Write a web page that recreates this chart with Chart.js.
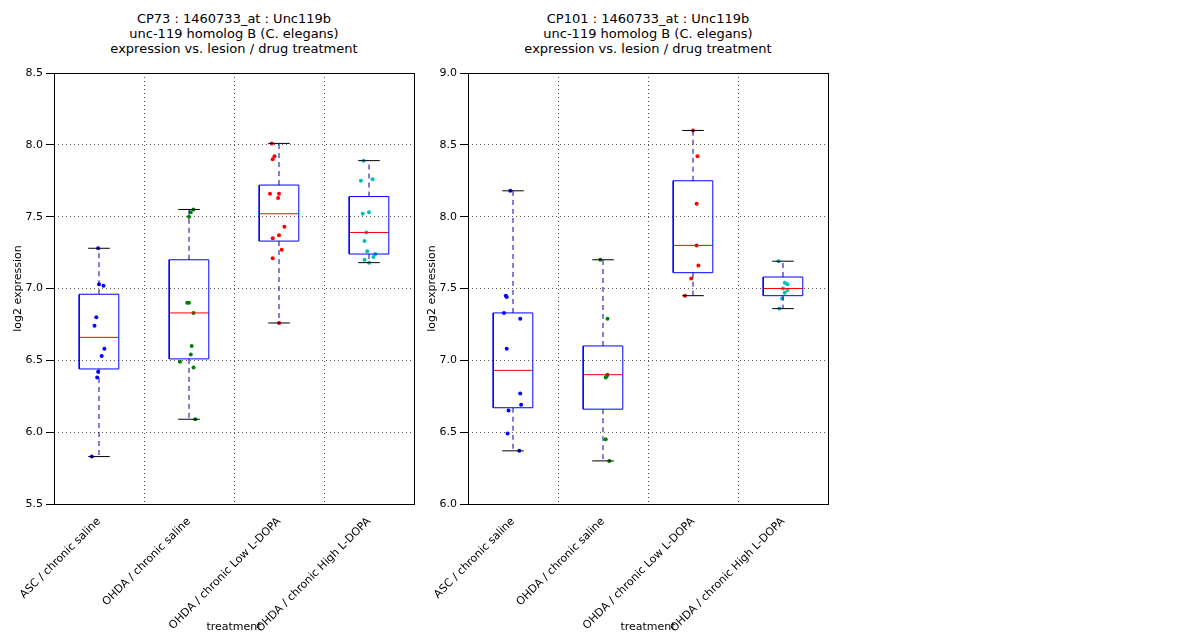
<!DOCTYPE html>
<html><head><meta charset="utf-8">
<script src="https://cdn.jsdelivr.net/npm/chart.js@4"></script>
<style>
body{margin:0;background:#fff;font-family:"DejaVu Sans",sans-serif;}
.title{position:absolute;top:11px;width:360px;text-align:center;font-size:13px;line-height:15px;}
.wrap{position:absolute;top:60px;width:430px;height:580px;}
</style></head><body>
<div class="title" style="left:54px">CP73 : 1460733_at : Unc119b<br>unc-119 homolog B (C. elegans)<br>expression vs. lesion / drug treatment</div>
<div class="title" style="left:468px">CP101 : 1460733_at : Unc119b<br>unc-119 homolog B (C. elegans)<br>expression vs. lesion / drug treatment</div>
<div class="wrap" style="left:0"><canvas id="c1"></canvas></div>
<div class="wrap" style="left:414px"><canvas id="c2"></canvas></div>
<script>
const categories = ['ASC / chronic saline', 'OHDA / chronic saline', 'OHDA / chronic Low L-DOPA', 'OHDA / chronic High L-DOPA'];
const colors = ['#0000ff', '#008000', '#ff0000', '#00bfbf'];

// CP73
const cp73Points = [
  [7.28, 7.03, 7.02, 6.80, 6.74, 6.58, 6.53, 6.42, 6.38, 5.83],
  [7.55, 7.53, 7.50, 6.90, 6.90, 6.83, 6.60, 6.54, 6.49, 6.45, 6.09],
  [8.01, 7.92, 7.90, 7.66, 7.66, 7.63, 7.43, 7.37, 7.35, 7.27, 7.21, 6.76],
  [7.89, 7.76, 7.75, 7.53, 7.52, 7.39, 7.33, 7.26, 7.24, 7.22, 7.20, 7.18]
];
const cp73Jitter = [
  [-0.01, 0.0, 0.05, -0.03, -0.05, 0.06, 0.03, -0.01, -0.02, -0.08],
  [0.05, 0.02, 0.0, -0.02, 0.0, 0.05, 0.03, 0.02, -0.1, 0.05, 0.07],
  [-0.08, -0.05, -0.07, -0.1, 0.0, -0.01, 0.06, 0.0, -0.07, 0.03, -0.07, 0.0],
  [-0.06, 0.04, -0.09, 0.0, -0.07, -0.03, -0.05, -0.02, 0.07, 0.05, -0.05, 0.0]
];
const cp73Box = { lo: [5.83, 6.09, 6.76, 7.18], q1: [6.44, 6.51, 7.33, 7.24], med: [6.66, 6.83, 7.52, 7.39], q3: [6.96, 7.20, 7.72, 7.64], hi: [7.28, 7.55, 8.01, 7.89] };
const cp73Ticks = [5.5, 6.0, 6.5, 7.0, 7.5, 8.0, 8.5];

// CP101
const cp101Points = [
  [8.18, 7.45, 7.44, 7.33, 7.29, 7.08, 6.77, 6.69, 6.65, 6.49, 6.37],
  [7.70, 7.29, 6.90, 6.89, 6.88, 6.45, 6.30],
  [8.60, 8.42, 8.09, 7.80, 7.66, 7.57, 7.45],
  [7.69, 7.54, 7.53, 7.50, 7.49, 7.47, 7.43, 7.36]
];
const cp101Jitter = [
  [-0.03, -0.08, -0.07, -0.1, 0.08, -0.07, 0.08, 0.09, -0.05, -0.06, 0.07],
  [-0.03, 0.05, 0.05, 0.04, 0.03, 0.03, 0.07],
  [0.0, 0.05, 0.04, 0.04, 0.06, -0.02, -0.09],
  [-0.05, 0.02, 0.05, 0.0, 0.05, 0.02, -0.01, -0.04]
];
const cp101Box = { lo: [6.37, 6.30, 7.45, 7.36], q1: [6.67, 6.66, 7.61, 7.45], med: [6.93, 6.90, 7.80, 7.50], q3: [7.33, 7.10, 8.25, 7.58], hi: [8.18, 7.70, 8.60, 7.69] };
const cp101Ticks = [6.0, 6.5, 7.0, 7.5, 8.0, 8.5, 9.0];

const BW = 0.22, CW = 0.12;

const framePlugin = {
  id: 'frame',
  beforeDatasetsDraw(chart) {
    const { ctx, chartArea: a, scales: { x } } = chart;
    ctx.save();
    ctx.strokeStyle = '#555'; ctx.lineWidth = 1; ctx.setLineDash([1, 3]);
    [1.5, 2.5, 3.5].forEach(v => {
      const px = Math.round(x.getPixelForValue(v)) + 0.5;
      ctx.beginPath(); ctx.moveTo(px, a.top); ctx.lineTo(px, a.bottom); ctx.stroke();
    });
    ctx.restore();
  },
  afterDatasetsDraw(chart) {
    const { ctx, chartArea: a } = chart;
    ctx.save(); ctx.strokeStyle = '#000'; ctx.lineWidth = 1;
    ctx.strokeRect(a.left + 0.5, a.top + 0.5, a.width, a.height);
    ctx.restore();
  }
};

function makeChart(id, pts, jit, box, ticks) {
  const ds = [];
  for (let i = 0; i < 4; i++) {
    const c = i + 1;
    const line = (data, color, dash) => ds.push({ data, showLine: true, borderColor: color, borderWidth: 1, borderDash: dash || [], pointRadius: 0, fill: false });
    line([{x: c, y: box.q3[i]}, {x: c, y: box.hi[i]}], '#0000b0', [5, 4]);
    line([{x: c, y: box.q1[i]}, {x: c, y: box.lo[i]}], '#0000b0', [5, 4]);
    line([{x: c - CW, y: box.hi[i]}, {x: c + CW, y: box.hi[i]}], '#000');
    line([{x: c - CW, y: box.lo[i]}, {x: c + CW, y: box.lo[i]}], '#000');
    line([{x: c - BW, y: box.q1[i]}, {x: c + BW, y: box.q1[i]}, {x: c + BW, y: box.q3[i]}, {x: c - BW, y: box.q3[i]}, {x: c - BW, y: box.q1[i]}], '#0000ff');
    line([{x: c - BW, y: box.med[i]}, {x: c + BW, y: box.med[i]}], '#ff0000');
    ds.push({ data: pts[i].map((v, k) => ({x: c + jit[i][k], y: v})), pointRadius: 2, pointBackgroundColor: colors[i], pointBorderWidth: 0, showLine: false });
  }
  new Chart(document.getElementById(id), {
    type: 'scatter',
    data: { datasets: ds },
    options: {
      responsive: true, maintainAspectRatio: false, animation: false,
      layout: { padding: { top: 13, right: 16, left: 8, bottom: 6 } },
      plugins: { legend: { display: false }, tooltip: { enabled: false } },
      scales: {
        x: {
          min: 0.5, max: 4.5,
          afterBuildTicks: s => { s.ticks = [1, 2, 3, 4].map(v => ({ value: v })); },
          afterFit: s => { s.height = 130; },
          ticks: { callback: v => categories[v - 1], minRotation: 45, maxRotation: 45, color: '#000', font: { size: 11, family: 'DejaVu Sans' } },
          grid: { display: false }, border: { display: false },
          title: { display: true, text: 'treatment', color: '#000', padding: 0, font: { size: 11, family: 'DejaVu Sans' } }
        },
        y: {
          min: ticks[0], max: ticks[ticks.length - 1],
          afterBuildTicks: s => { s.ticks = ticks.map(v => ({ value: v })); },
          afterFit: s => { s.width = 46; },
          ticks: { callback: v => v.toFixed(1), color: '#000', font: { size: 11, family: 'DejaVu Sans' } },
          grid: { color: '#555', drawTicks: true, tickColor: '#000' }, border: { display: false, dash: [1, 3] },
          title: { display: true, text: 'log2 expression', color: '#000', font: { size: 11, family: 'DejaVu Sans' } }
        }
      }
    },
    plugins: [framePlugin]
  });
}
makeChart('c1', cp73Points, cp73Jitter, cp73Box, cp73Ticks);
makeChart('c2', cp101Points, cp101Jitter, cp101Box, cp101Ticks);
</script>
</body></html>
